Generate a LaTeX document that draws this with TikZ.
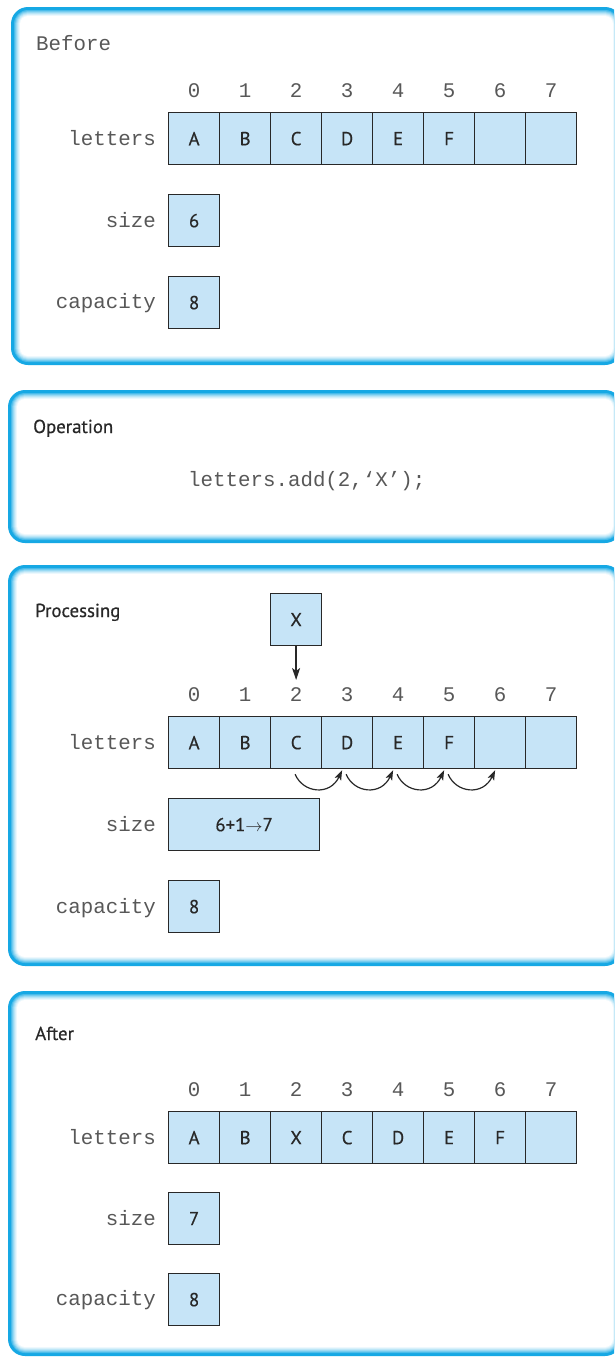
\documentclass[tikz,border=0pt]{standalone}
\usepackage{fontspec}
\setmainfont{PT Sans}[FakeBold=0.5]
\newfontfamily\monofam{Liberation Mono}
\usetikzlibrary{arrows.meta,calc}
\definecolor{frameblue}{RGB}{22,168,228}
\definecolor{cellblue}{RGB}{198,228,247}
\definecolor{inkgray}{RGB}{40,40,40}
\definecolor{labelgray}{RGB}{88,88,88}
\newcommand\sanstext{\fontsize{18.8}{22}\selectfont}
\newcommand\monotext{\monofam\fontsize{20.8}{24}\selectfont}

\newcommand\panelframe[3]{%
  \foreach \d/\p in {0/100,3/78,4/60,5/44,6/30,7/18,8/8,9/0}{%
    \pgfmathsetmacro\rr{17-\d}%
    \fill[frameblue!\p!white, rounded corners=\rr pt] (#1+\d,#2+\d) rectangle (622-\d,#3-\d);
  }%
}
\newcommand\lettersrow[3]{%
  \foreach \ch [count=\k from 0] in {#3}{%
    \node[cell] (#1c\k) at ({168+51*\k},#2) {\ch};
    \node[idx] (#1i\k) at ($(#1c\k.north)+(0,-21)$) {\k};
  }%
}

\begin{document}
\begin{tikzpicture}[x=1pt,y=-1pt,
  cell/.style={draw=inkgray, fill=cellblue, line width=1.2pt, minimum width=51pt,
    minimum height=52pt, inner sep=0pt, anchor=north west, font=\sanstext, text=inkgray},
  idx/.style={font=\monotext, text=labelgray, inner sep=0pt},
  lbl/.style={font=\monotext, text=labelgray, inner sep=0pt, anchor=base east},
  title/.style={font=\sanstext, text=inkgray, inner sep=0pt, anchor=base west},
  code/.style={font=\monotext, text=labelgray, inner sep=0pt, anchor=base west},
  droparrow/.style={-{Stealth[length=12pt,width=8pt,inset=3pt]}, line width=1.3pt, draw=inkgray},
  shiftarrow/.style={-{Stealth[length=10pt,width=7pt,inset=2.5pt]}, line width=1.2pt, draw=inkgray}]
\path[use as bounding box] (0,0) rectangle (614,1357);
\clip (0,0) rectangle (614,1357);
\fill[white] (0,0) rectangle (614,1357);
\panelframe{11}{7}{365}
\panelframe{8}{390}{543}
\panelframe{8}{565}{966}
\panelframe{8}{991}{1356}

% Panel 1: Before
\node[code] (p1title) at (36,50) {Before};
\lettersrow{p1}{112}{A,B,C,D,E,F,{},{}}
\node[lbl] (p1letters) at (156,145) {letters};
\node[cell] (p1size) at (168,194) {6};
\node[lbl] (p1sizel) at (156,227) {size};
\node[cell] (p1cap) at (168,276) {8};
\node[lbl] (p1capl) at (156,308) {capacity};

% Panel 2: Operation
\node[title] (p2title) at (33,433) {Operation};
\node[code] (p2code) at (188,486) {letters.add(2,‘X’);};

% Panel 3: Processing
\node[title] (p3title) at (35,617) {Processing};
\node[cell] (p3x) at (270,593) {X};
\lettersrow{p3}{716}{A,B,C,D,E,F,{},{}}
\coordinate (p3xtip) at ($(p3c2.north)+(0,-36)$);
\draw[droparrow] (p3x) -- (p3xtip);
\foreach \i [evaluate=\i as \j using int(\i+1)] in {2,...,5}{
  \coordinate (p3a\i) at ($(p3c\i.south)+(-1,5)$);
  \coordinate (p3b\i) at ($(p3c\j.south)+(-5,1)$);
  \draw[shiftarrow] (p3a\i) .. controls +(8,19) and +(-12,26) .. (p3b\i);
}
\node[lbl] (p3letters) at (156,749) {letters};
\node[cell, minimum width=151pt] (p3size) at (168,798) {6+1$\rightarrow$7};
\node[lbl] (p3sizel) at (156,831) {size};
\node[cell] (p3cap) at (168,880) {8};
\node[lbl] (p3capl) at (156,913) {capacity};

% Panel 4: After
\node[title] (p4title) at (35,1040) {After};
\lettersrow{p4}{1111}{A,B,X,C,D,E,F,{}}
\node[lbl] (p4letters) at (156,1144) {letters};
\node[cell] (p4size) at (168,1192) {7};
\node[lbl] (p4sizel) at (156,1225) {size};
\node[cell] (p4cap) at (168,1273) {8};
\node[lbl] (p4capl) at (156,1305) {capacity};
\end{tikzpicture}
\end{document}
